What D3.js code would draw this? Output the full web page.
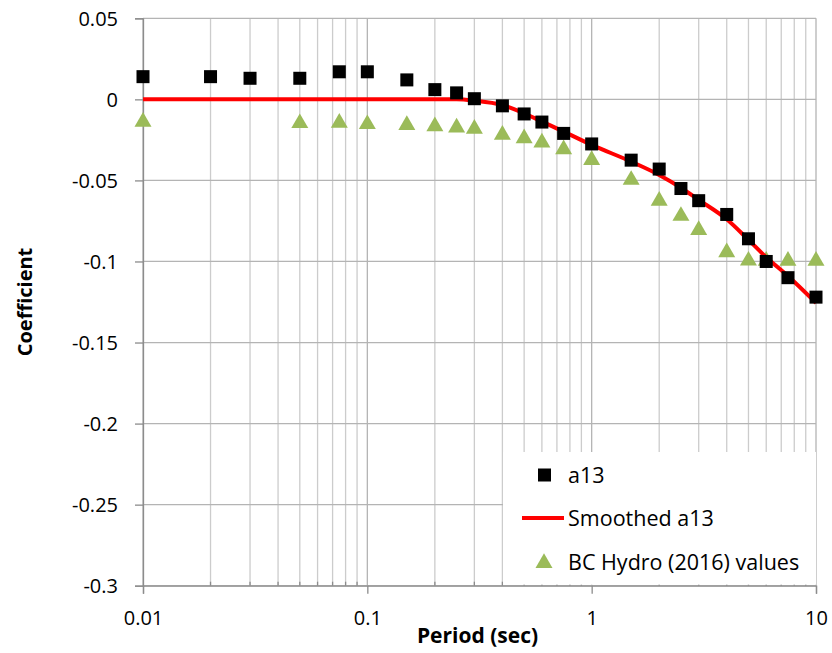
<!DOCTYPE html>
<html>
<head>
<meta charset="utf-8">
<script src="https://cdn.jsdelivr.net/npm/d3@7"></script>
<style>
  body { margin: 0; background: #fff; }
  svg text { font-family: "Open Sans", Lato, sans-serif; fill: #000; }
</style>
</head>
<body>
<svg id="chart" width="832" height="653"></svg>
<script>
// periods (sec)
var periods = [0.01, 0.02, 0.03, 0.05, 0.075, 0.1, 0.15, 0.2, 0.25, 0.3, 0.4, 0.5, 0.6, 0.75, 1, 1.5, 2, 2.5, 3, 4, 5, 6, 7.5, 10];
var a13 = [0.014, 0.014, 0.013, 0.013, 0.017, 0.017, 0.012, 0.006, 0.004, 0.0004, -0.004, -0.009, -0.014, -0.021, -0.0275, -0.0375, -0.043, -0.055, -0.0625, -0.071, -0.086, -0.1, -0.11, -0.122];
var smoothed = [0, 0, 0, 0, 0, 0, 0, 0, 0, -0.0008, -0.0035, -0.0086, -0.0137, -0.0199, -0.0281, -0.0384, -0.0466, -0.0545, -0.062, -0.074, -0.0867, -0.0974, -0.109, -0.1256];
var bcPeriods = [0.01, 0.05, 0.075, 0.1, 0.15, 0.2, 0.25, 0.3, 0.4, 0.5, 0.6, 0.75, 1, 1.5, 2, 2.5, 3, 4, 5, 6, 7.5, 10];
var bcHydro = [-0.0133, -0.0141, -0.0139, -0.0147, -0.0152, -0.016, -0.0168, -0.0176, -0.0213, -0.0234, -0.0261, -0.0302, -0.0368, -0.0491, -0.062, -0.0713, -0.08, -0.0937, -0.0989, -0.099, -0.099, -0.099];
var yTicks = [0.05, 0, -0.05, -0.1, -0.15, -0.2, -0.25, -0.3];
var xTicks = [0.01, 0.1, 1, 10];
var legendNames = ['a13', 'Smoothed a13', 'BC Hydro (2016) values'];

var svg = d3.select('#chart');
var plotLeft = 143, plotRight = 816, plotTop = 18.3, plotBottom = 585.7;
var fontSize = '20px';

var x = d3.scaleLog().domain([0.01, 10]).range([plotLeft, plotRight]);
var y = d3.scaleLinear().domain([-0.3, 0.05]).range([plotBottom, plotTop]);

// minor grid values 2..9 per decade
var minorX = [];
[0.01, 0.1, 1].forEach(function(dec){
  for (var k = 2; k <= 9; k++) minorX.push(dec * k);
});

var grid = svg.append('g');
grid.selectAll('.minor')
  .data(minorX)
  .enter().append('line')
  .attr('x1', d => x(d)).attr('x2', d => x(d))
  .attr('y1', plotTop).attr('y2', plotBottom)
  .attr('stroke', '#cccccc').attr('stroke-width', 1.3);
grid.selectAll('.majx')
  .data(xTicks)
  .enter().append('line')
  .attr('x1', d => x(d)).attr('x2', d => x(d))
  .attr('y1', plotTop).attr('y2', plotBottom)
  .attr('stroke', '#b4b4b4').attr('stroke-width', 1.3);
grid.selectAll('.majy')
  .data(yTicks)
  .enter().append('line')
  .attr('x1', plotLeft).attr('x2', plotRight)
  .attr('y1', d => y(d)).attr('y2', d => y(d))
  .attr('stroke', '#b4b4b4').attr('stroke-width', 1.3);

// axes
var yAxis = d3.axisLeft(y).tickValues(yTicks).tickSize(8).tickPadding(17)
  .tickFormat(d => d === 0 ? '0' : String(+d.toFixed(2)));
var gy = svg.append('g').attr('transform', `translate(${plotLeft},0)`).call(yAxis);
gy.select('.domain').attr('stroke', '#8c8c8c').attr('stroke-width', 1.3);
gy.selectAll('.tick line').attr('stroke', '#8c8c8c').attr('stroke-width', 1.3);
gy.selectAll('.tick text').style('font-size', fontSize).attr('dy', '0.36em');

var xAxis = d3.axisBottom(x).tickValues(xTicks).tickSize(8).tickPadding(17)
  .tickFormat(d => String(d));
var gx = svg.append('g').attr('transform', `translate(0,${plotBottom})`).call(xAxis);
gx.select('.domain').attr('stroke', '#8c8c8c').attr('stroke-width', 1.3);
gx.selectAll('.tick line').attr('stroke', '#8c8c8c').attr('stroke-width', 1.3);
gx.selectAll('.tick text').style('font-size', fontSize);
gx.selectAll('.minor')
  .data(minorX)
  .enter().append('line')
  .attr('x1', d => x(d)).attr('x2', d => x(d))
  .attr('y1', 0).attr('y2', -4)
  .attr('stroke', '#8c8c8c').attr('stroke-width', 1.3);

// axis titles
svg.append('text')
  .attr('transform', `translate(32,${(plotTop + plotBottom) / 2}) rotate(-90)`)
  .attr('text-anchor', 'middle')
  .style('font-size', '20px').style('font-weight', 'bold')
  .text('Coefficient');
svg.append('text')
  .attr('x', (plotLeft + plotRight) / 2 - 2).attr('y', 643)
  .attr('text-anchor', 'middle')
  .style('font-size', '21px').style('font-weight', 'bold')
  .text('Period (sec)');

// series
var tri = d3.symbol().type(d3.symbolTriangle).size(125);
svg.append('g').selectAll('path')
  .data(bcPeriods.map((p, i) => [p, bcHydro[i]]))
  .enter().append('path')
  .attr('d', tri)
  .attr('transform', d => `translate(${x(d[0])},${y(d[1]) + 1})`)
  .attr('fill', '#9bbb59');

var line = d3.line()
  .x((d, i) => x(periods[i]))
  .y(d => y(d))
  .curve(d3.curveMonotoneX);
svg.append('path')
  .datum(smoothed)
  .attr('d', line)
  .attr('fill', 'none')
  .attr('stroke', '#ff0000')
  .attr('stroke-width', 4);

svg.append('g').selectAll('rect')
  .data(periods.map((p, i) => [p, a13[i]]))
  .enter().append('rect')
  .attr('x', d => x(d[0]) - 6.5)
  .attr('y', d => y(d[1]) - 6.5)
  .attr('width', 13).attr('height', 13)
  .attr('fill', '#000');

// legend
var lg = svg.append('g');
lg.append('rect')
  .attr('x', 503).attr('y', 452)
  .attr('width', plotRight - 503).attr('height', plotBottom - 452 - 1)
  .attr('fill', '#fff');
var rows = [475, 518, 562];
legendNames.forEach(function(name, i){
  var cy = rows[i];
  if (i === 0) {
    lg.append('rect').attr('x', 538).attr('y', cy - 6.5).attr('width', 13).attr('height', 13).attr('fill', '#000');
  } else if (i === 1) {
    lg.append('line').attr('x1', 522).attr('x2', 564).attr('y1', cy).attr('y2', cy)
      .attr('stroke', '#ff0000').attr('stroke-width', 4);
  } else {
    lg.append('path').attr('d', tri).attr('transform', `translate(544,${cy + 1})`).attr('fill', '#9bbb59');
  }
  lg.append('text')
    .attr('x', 568).attr('y', cy).attr('dy', '0.36em')
    .style('font-size', '21.5px')
    .text(name);
});
</script>
</body>
</html>
